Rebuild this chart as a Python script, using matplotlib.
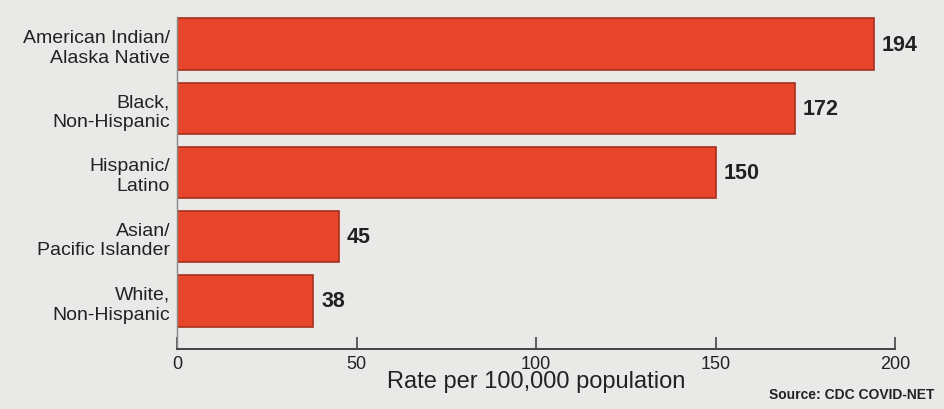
import numpy as np
import matplotlib.pyplot as plt

# ============================================================
# DATA
# ============================================================

groups = [
    "American Indian/\nAlaska Native",
    "Black,\nNon-Hispanic",
    "Hispanic/\nLatino",
    "Asian/\nPacific Islander",
    "White,\nNon-Hispanic",
]
rates = [194, 172, 150, 45, 38]
xticks = [0, 50, 100, 150, 200]

# ============================================================
# PLOT
# ============================================================

plt.rcParams["font.family"] = ["Liberation Sans", "DejaVu Sans"]

bg = "#e9e9e7"
bar_color = "#e8462c"
edge_color = "#a8301c"
text_color = "#222222"

fig = plt.figure(figsize=(9.44, 4.10), dpi=100, facecolor=bg)
ax = fig.add_axes([0.1875, 0.146, 0.761, 0.81], facecolor=bg)

ypos = np.arange(len(groups))

ax.barh(ypos, rates, height=0.8, color=bar_color,
        edgecolor=edge_color, linewidth=1.2, zorder=2)

for y, v in zip(ypos, rates):
    ax.text(v + 2.2, y, str(v), va="center", ha="left",
            fontsize=15.5, fontweight="bold", color=text_color)

ax.set_xlim(0, 200)
ax.set_ylim(4.75, -0.42)

ax.set_yticks(ypos)
ax.set_yticklabels(groups, fontsize=14, color=text_color,
                   linespacing=1.2)
ax.tick_params(axis="y", length=0, pad=5)

ax.set_xticks(xticks)
ax.set_xticklabels([str(t) for t in xticks], fontsize=13,
                   color=text_color)
ax.tick_params(axis="x", direction="in", length=9, width=1.2,
               color="#444444", pad=4)

for side in ["top", "right"]:
    ax.spines[side].set_visible(False)
ax.spines["left"].set_color("#888888")
ax.spines["left"].set_linewidth(1.0)
ax.spines["bottom"].set_color("#444444")
ax.spines["bottom"].set_linewidth(1.4)

ax.set_xlabel("Rate per 100,000 population", fontsize=17,
              color=text_color, labelpad=-1)

fig.text(0.99, 0.02, "Source: CDC COVID-NET", ha="right", va="bottom",
         fontsize=10, fontweight="bold", color=text_color)

plt.savefig("out.png", dpi=100, facecolor=bg)
